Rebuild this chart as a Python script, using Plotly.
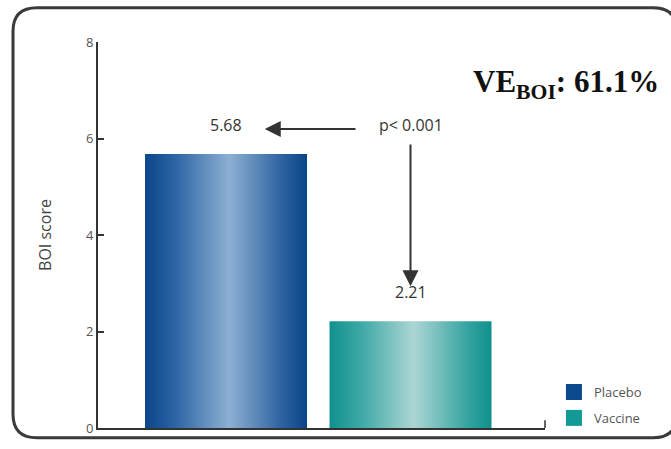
import plotly.graph_objects as go

# ---- data ----
groups = ["Placebo", "Vaccine"]
boi_scores = [5.68, 2.21]
value_labels = ["5.68", "2.21"]
p_value_text = "p< 0.001"
ve_text = "VE<sub>BOI</sub>: 61.1%"
y_ticks = [0, 2, 4, 6, 8]

# ---- styles ----
solid_colors = ["#0b4a8c", "#139a96"]
gradients = [
    [[0, "#0a468a"], [0.18, "#2b63a3"], [0.52, "#8cb0d3"], [0.85, "#2c61a0"], [1, "#0a4589"]],
    [[0, "#0f918e"], [0.2, "#3fa9a6"], [0.52, "#acd6d4"], [0.85, "#36a4a1"], [1, "#0f908d"]],
]
bar_width = 0.878
grey = "#555555"
font_family = "Open Sans, Noto Sans, sans-serif"

fig = go.Figure()

for i, (g, v) in enumerate(zip(groups, boi_scores)):
    x0, x1 = i - bar_width / 2, i + bar_width / 2
    fig.add_trace(go.Scatter(
        x=[x0, x1, x1, x0, x0], y=[0, 0, v, v, 0],
        mode="lines", fill="toself", line=dict(width=0),
        fillcolor=solid_colors[i],
        fillgradient=dict(type="horizontal", colorscale=gradients[i]),
        showlegend=False, hoverinfo="skip",
    ))
    # legend-only entry
    fig.add_trace(go.Scatter(
        x=[None], y=[None], name=g, mode="markers",
        marker=dict(color=solid_colors[i], symbol="square", size=16),
        legendgroup=g,
    ))
    # value label
    fig.add_annotation(
        x=i, y=v, text=value_labels[i], showarrow=False,
        yanchor="bottom", yshift=16,
        font=dict(size=16, color="#333333", family=font_family),
    )

# p-value text and arrows
label_y = boi_scores[0]
fig.add_annotation(
    x=1, y=label_y, text=p_value_text, showarrow=False,
    yanchor="bottom", yshift=16,
    font=dict(size=16, color="#333333", family=font_family),
)
# horizontal arrow (to placebo label)
fig.add_annotation(
    x=0.21, y=label_y, ax=0.71, ay=label_y,
    xref="x", yref="y", axref="x", ayref="y",
    yshift=25, text="", showarrow=True,
    arrowhead=2, arrowsize=1.6, arrowwidth=2, arrowcolor="#333333",
)
# vertical arrow (down to vaccine label)
fig.add_annotation(
    x=1, y=boi_scores[1], ax=1, ay=label_y,
    xref="x", yref="y", axref="x", ayref="y",
    yshift=11, text="", showarrow=True, standoff=24,
    arrowhead=2, arrowsize=1.6, arrowwidth=2, arrowcolor="#333333",
)

# VE annotation
fig.add_annotation(
    x=1.26, y=0.89, xref="paper", yref="paper",
    xanchor="right", yanchor="middle", showarrow=False,
    text=ve_text,
    font=dict(size=31, color="#111111", family="Liberation Serif, Times New Roman, serif", weight="bold"),
)

# plot area: l=98, r=545, t=42, b=436 (px)
W, H = 671, 449
L, R, T, B = 98, 545, 42, 436
pw, ph = R - L, B - T
def px(x):
    return (x - L) / pw
def py(y):
    return (B - y) / ph

# rounded frame
x0f, x1f, y0f, y1f, r = 13, 677, 7, 446, 24
path = (
    f"M {px(x0f + r)},{py(y0f)} L {px(x1f - r)},{py(y0f)} "
    f"Q {px(x1f)},{py(y0f)} {px(x1f)},{py(y0f + r)} "
    f"L {px(x1f)},{py(y1f - r)} Q {px(x1f)},{py(y1f)} {px(x1f - r)},{py(y1f)} "
    f"L {px(x0f + r)},{py(y1f)} Q {px(x0f)},{py(y1f)} {px(x0f)},{py(y1f - r)} "
    f"L {px(x0f)},{py(y0f + r)} Q {px(x0f)},{py(y0f)} {px(x0f + r)},{py(y0f)} Z"
)
fig.add_shape(type="path", path=path, xref="paper", yref="paper",
              line=dict(color="#3a3a3a", width=3), layer="above")
# small end tick on x axis
fig.add_shape(type="line", xref="paper", yref="paper",
              x0=1, x1=1, y0=0, y1=py(B - 8),
              line=dict(color="#333333", width=1.5))

fig.update_layout(
    width=W, height=H,
    margin=dict(l=L, r=W - R, t=T, b=H - B),
    plot_bgcolor="white", paper_bgcolor="white",
    showlegend=True,
    legend=dict(
        x=1.02, y=py(384), xanchor="left", yanchor="top",
        font=dict(size=13, color=grey, family=font_family),
        tracegroupgap=6, itemwidth=30, itemsizing="trace",
        bgcolor="rgba(0,0,0,0)",
    ),
    xaxis=dict(
        range=[-0.694, 1.729], showticklabels=False, showgrid=False,
        zeroline=False, showline=True, linecolor="#333333", linewidth=1.8,
        ticks="", fixedrange=True,
    ),
    yaxis=dict(
        range=[0, 8], tickvals=y_ticks, showgrid=False, zeroline=False,
        showline=True, linecolor="#333333", linewidth=1.8,
        ticks="inside", ticklen=6, tickcolor="#333333", tickwidth=1.5,
        tickfont=dict(size=13, color=grey, family=font_family),
        title=dict(text="BOI score", standoff=30,
                   font=dict(size=16, color="#444444", family=font_family)),
    ),
)

fig.write_html("out.html", config={"displayModeBar": False},
               post_script="document.body.style.margin='0';")
